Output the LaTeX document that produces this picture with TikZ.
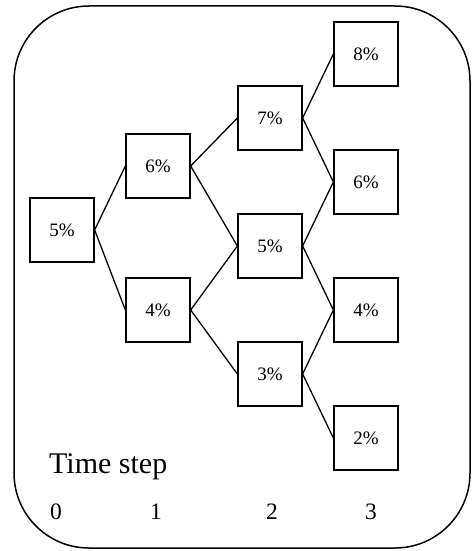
\documentclass[tikz,border=0pt]{standalone}
\usepackage{fontspec}
\setmainfont{Liberation Serif}
\begin{document}
\begin{tikzpicture}[x=1pt,y=-1pt,
  rate/.style={draw,line width=1.3pt,minimum size=64pt,inner sep=0pt,font=\fontsize{19}{22}\selectfont},
  link/.style={line width=1.3pt},
  stepnum/.style={anchor=base,inner sep=0pt,font=\fontsize{23.5}{28}\selectfont}]
\useasboundingbox (0,0) rectangle (475,551);
\draw[line width=1.5pt,rounded corners=75pt] (14,6) rectangle (470,548);
\node[rate] (a) at (62,230) {5\%};
\node[rate] (b1) at (158,166) {6\%};
\node[rate] (b2) at (158,310) {4\%};
\node[rate] (c1) at (270,118) {7\%};
\node[rate] (c2) at (270,246) {5\%};
\node[rate] (c3) at (270,374) {3\%};
\node[rate] (d1) at (366,54) {8\%};
\node[rate] (d2) at (366,182) {6\%};
\node[rate] (d3) at (366,310) {4\%};
\node[rate] (d4) at (366,438) {2\%};
\draw[link] (a.east) -- (b1.west);
\draw[link] (a.east) -- (b2.west);
\draw[link] (b1.east) -- (c1.west);
\draw[link] (b1.east) -- (c2.west);
\draw[link] (b2.east) -- (c2.west);
\draw[link] (b2.east) -- (c3.west);
\draw[link] (c1.east) -- (d1.west);
\draw[link] (c1.east) -- (d2.west);
\draw[link] (c2.east) -- (d2.west);
\draw[link] (c2.east) -- (d3.west);
\draw[link] (c3.east) -- (d3.west);
\draw[link] (c3.east) -- (d4.west);
\node[anchor=base west,inner sep=0pt,font=\fontsize{30}{36}\selectfont] (ts) at (49,473) {Time step};
\node[stepnum] (t0) at (56,519) {0};
\node[stepnum] (t1) at (156,519) {1};
\node[stepnum] (t2) at (272,519) {2};
\node[stepnum] (t3) at (371,519) {3};
\end{tikzpicture}
\end{document}
